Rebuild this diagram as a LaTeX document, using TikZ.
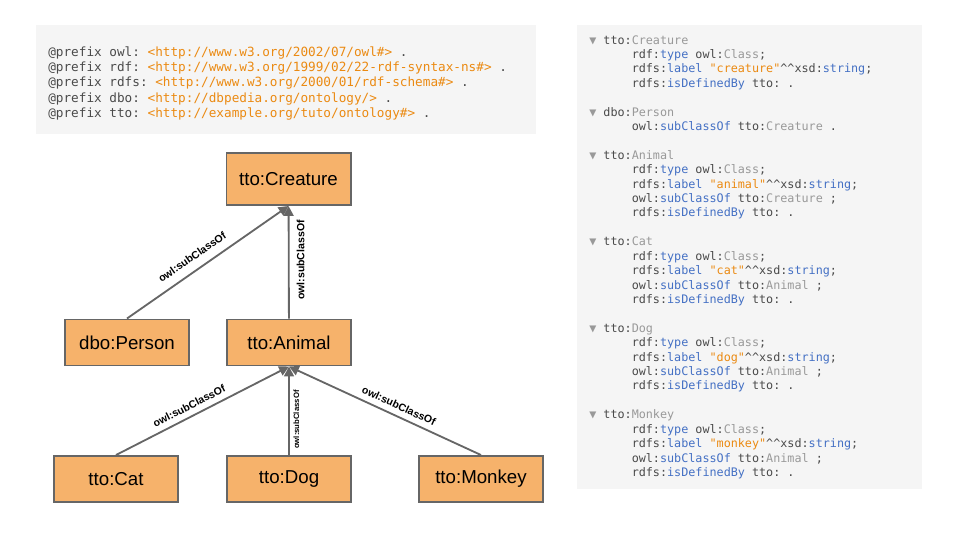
\documentclass[tikz,border=0pt]{standalone}
\usepackage{fontspec}
\setmainfont{Liberation Sans}
\setmonofont{DejaVu Sans Mono}
\usetikzlibrary{arrows.meta,positioning}
\definecolor{boxfill}{HTML}{F6B26B}
\definecolor{edgegray}{HTML}{666666}
\definecolor{panelbg}{HTML}{F5F5F5}
\definecolor{codedark}{HTML}{4A4A4A}
\definecolor{codegray}{HTML}{999999}
\definecolor{codeblue}{HTML}{4470C4}
\definecolor{codeorange}{HTML}{EB8A12}
\newcommand{\iri}[1]{\textcolor{codeorange}{#1}}
\newcommand{\kw}[1]{\textcolor{codeblue}{#1}}
\newcommand{\nm}[1]{\textcolor{codegray}{#1}}
\newcommand{\tri}{\textcolor{codegray}{▼}}
\newcommand{\ind}{\phantom{000000}}
\newcommand{\dtype}{\textasciicircum\textasciicircum xsd:}
\tikzset{
  cls/.style={draw=edgegray, fill=boxfill, line width=1.4pt,
    minimum width=3.1cm, minimum height=1.15cm,
    font=\fontsize{13.3}{16}\selectfont},
  isa/.style={draw=edgegray, line width=1.3pt,
    -{Triangle[length=7pt,width=7pt]}},
  lbl/.style={font=\bfseries\fontsize{7.5}{9}\selectfont, sloped, inner sep=4pt},
  vlbl/.style={font=\bfseries\fontsize{7.5}{9}\selectfont, rotate=90, anchor=north},
  panel/.style={fill=panelbg},
  code/.style={text=codedark, align=left, anchor=north west, inner sep=0pt}
}

\begin{document}
\begin{tikzpicture}[x=0.025cm, y=-0.025cm]
  \useasboundingbox (0,0) rectangle (960,540);
  % code panels
  \fill[panel] (36,25) rectangle (536,134);
  \fill[panel] (577,25) rectangle (922,489);
  \node[code, font=\ttfamily\fontsize{9.03}{10.8}\selectfont] (prefixes) at (48,46.5) {%
    @prefix owl: \iri{<http://www.w3.org/2002/07/owl\#>} .\\
    @prefix rdf: \iri{<http://www.w3.org/1999/02/22-rdf-syntax-ns\#>} .\\
    @prefix rdfs: \iri{<http://www.w3.org/2000/01/rdf-schema\#>} .\\
    @prefix dbo: \iri{<http://dbpedia.org/ontology/>} .\\
    @prefix tto: \iri{<http://example.org/tuto/ontology\#>} .};
  \node[code, font=\ttfamily\fontsize{8.36}{10.25}\selectfont] (turtle) at (589,35) {%
    \tri\ tto:\nm{Creature}\\
    \ind rdf:\kw{type} owl:\nm{Class};\\
    \ind rdfs:\kw{label} \iri{"creature"}\dtype\kw{string};\\
    \ind rdfs:\kw{isDefinedBy} tto: .\\[10.25pt]
    \tri\ dbo:\nm{Person}\\
    \ind owl:\kw{subClassOf} tto:\nm{Creature} .\\[10.25pt]
    \tri\ tto:\nm{Animal}\\
    \ind rdf:\kw{type} owl:\nm{Class};\\
    \ind rdfs:\kw{label} \iri{"animal"}\dtype\kw{string};\\
    \ind owl:\kw{subClassOf} tto:\nm{Creature} ;\\
    \ind rdfs:\kw{isDefinedBy} tto: .\\[10.25pt]
    \tri\ tto:\nm{Cat}\\
    \ind rdf:\kw{type} owl:\nm{Class};\\
    \ind rdfs:\kw{label} \iri{"cat"}\dtype\kw{string};\\
    \ind owl:\kw{subClassOf} tto:\nm{Animal} ;\\
    \ind rdfs:\kw{isDefinedBy} tto: .\\[10.25pt]
    \tri\ tto:\nm{Dog}\\
    \ind rdf:\kw{type} owl:\nm{Class};\\
    \ind rdfs:\kw{label} \iri{"dog"}\dtype\kw{string};\\
    \ind owl:\kw{subClassOf} tto:\nm{Animal} ;\\
    \ind rdfs:\kw{isDefinedBy} tto: .\\[10.25pt]
    \tri\ tto:\nm{Monkey}\\
    \ind rdf:\kw{type} owl:\nm{Class};\\
    \ind rdfs:\kw{label} \iri{"monkey"}\dtype\kw{string};\\
    \ind owl:\kw{subClassOf} tto:\nm{Animal} ;\\
    \ind rdfs:\kw{isDefinedBy} tto: .};

  % class hierarchy
  \node[cls, minimum height=1.3cm] (creature) at (288.5,179) {tto:Creature};
  \node[cls] (person) at (127,342.5) {dbo:Person};
  \node[cls] (animal) at (289,342.5) {tto:Animal};
  \node[cls] (cat) at (116,479) {tto:Cat};
  \node[cls] (dog) at (289,479) {tto:Dog};
  \node[cls] (monkey) at (481,479) {tto:Monkey};

  \draw[isa] (person.north) -- (creature.south) node[lbl, pos=0.45, above, inner sep=6pt] {owl:subClassOf};
  \draw[isa] (animal) -- (creature) node[vlbl, pos=0.52, inner sep=5pt] {owl:subClassOf};
  \draw[isa] (cat.north) -- (animal.south) node[lbl, pos=0.45, above] {owl:subClassOf};
  \draw[isa] (dog) -- (animal) node[vlbl, pos=0.4, inner sep=2.5pt, font=\bfseries\fontsize{5.5}{6}\selectfont] {owl:subClassOf};
  \draw[isa] (monkey.north) -- (animal.south) node[lbl, pos=0.45, above] {owl:subClassOf};
\end{tikzpicture}
\end{document}
